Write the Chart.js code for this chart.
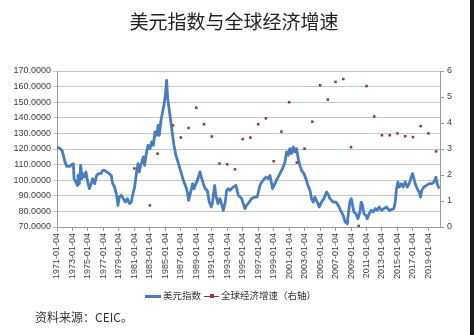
<!DOCTYPE html>
<html>
<head>
<meta charset="utf-8">
<script src="https://cdn.jsdelivr.net/npm/chart.js@4.4.1/dist/chart.umd.min.js"></script>
<style>
  html, body { margin: 0; padding: 0; background: #fff; }
  #wrap { position: relative; width: 474px; height: 335px; overflow: hidden; background: #fff; }
  #chartBox { position: absolute; left: 0; top: 0; width: 474px; height: 335px; }
  #title {
    position: absolute; left: 0; width: 468px; top: 9px; text-align: center;
    font-family: "Noto Sans CJK SC", sans-serif; font-size: 19px; color: #222; line-height: 24px;
  }
  #legend {
    position: absolute; left: 145px; top: 288px; height: 14px; line-height: 14px;
    font-family: "Noto Sans CJK SC", sans-serif; font-size: 9.5px; color: #333; white-space: nowrap;
  }
  #legend .sw { display: inline-block; vertical-align: middle; position: relative; margin-right: 2px; }
  #legend .sw i { position: absolute; left: 50%; top: 50%; width: 4px; height: 4px; margin: -2px 0 0 -2px; }
  #legend .item { margin-right: 3px; }
  #source {
    position: absolute; left: 35px; top: 309px; font-family: "Noto Sans CJK SC", sans-serif;
    font-size: 12px; color: #333; line-height: 16px;
  }
  #edge { position: absolute; left: 470px; top: 0; width: 4px; height: 335px; background: #1c1c1c; }
</style>
</head>
<body>
<div id="wrap">
  <div id="chartBox"><canvas id="dxyChart"></canvas></div>
  <div id="title">美元指数与全球经济增速</div>
  <div id="legend"></div>
  <div id="source">资料来源：CEIC。</div>
  <div id="edge"></div>
</div>
<script>
// x axis tick labels (one every two years)
const xTickLabels = [
  '1971-01-04', '1973-01-04', '1975-01-04', '1977-01-04', '1979-01-04', '1981-01-04',
  '1983-01-04', '1985-01-04', '1987-01-04', '1989-01-04', '1991-01-04', '1993-01-04',
  '1995-01-04', '1997-01-04', '1999-01-04', '2001-01-04', '2003-01-04', '2005-01-04',
  '2007-01-04', '2009-01-04', '2011-01-04', '2013-01-04', '2015-01-04', '2017-01-04',
  '2019-01-04'
];

// US dollar index: sample dates (decimal years) and values
const dxyDates = [
  1971.04, 1971.39, 1971.65, 1971.82, 1972.03, 1972.25, 1972.68, 1972.89, 1973.11, 1973.20,
  1973.45, 1973.63, 1973.71, 1973.89, 1974.06, 1974.23, 1974.40, 1974.62, 1974.75, 1974.92,
  1975.18, 1975.35, 1975.61, 1975.87, 1976.12, 1976.38, 1976.64, 1976.90, 1977.16, 1977.42,
  1977.76, 1978.02, 1978.19, 1978.45, 1978.71, 1978.88, 1979.05, 1979.31, 1979.57, 1979.83,
  1980.09, 1980.35, 1980.60, 1980.86, 1981.03, 1981.29, 1981.47, 1981.64, 1981.81, 1981.98,
  1982.15, 1982.33, 1982.50, 1982.76, 1983.02, 1983.23, 1983.45, 1983.66, 1983.88, 1984.09,
  1984.22, 1984.44, 1984.65, 1984.82, 1985.00, 1985.17, 1985.30, 1985.43, 1985.60, 1985.77,
  1985.94, 1986.12, 1986.37, 1986.63, 1986.89, 1987.15, 1987.41, 1987.67, 1987.84, 1988.01,
  1988.27, 1988.53, 1988.70, 1988.96, 1989.22, 1989.48, 1989.65, 1989.91, 1990.16, 1990.42,
  1990.68, 1990.94, 1991.11, 1991.37, 1991.54, 1991.80, 1992.06, 1992.32, 1992.49, 1992.75,
  1992.92, 1993.18, 1993.35, 1993.78, 1994.13, 1994.43, 1994.86, 1995.29, 1995.50, 1995.85,
  1996.15, 1996.58, 1996.88, 1997.23, 1997.44, 1997.66, 1998.00, 1998.30, 1998.52, 1998.86,
  1999.16, 1999.47, 1999.81, 2000.15, 2000.46, 2000.67, 2000.89, 2001.10, 2001.32, 2001.53,
  2001.75, 2001.96, 2002.18, 2002.39, 2002.61, 2002.91, 2003.17, 2003.43, 2003.69, 2003.90,
  2004.12, 2004.33, 2004.63, 2004.89, 2005.19, 2005.49, 2005.84, 2006.10, 2006.27, 2006.70,
  2007.05, 2007.35, 2007.65, 2007.99, 2008.25, 2008.51, 2008.68, 2008.85, 2009.03, 2009.20,
  2009.37, 2009.63, 2009.89, 2010.15, 2010.32, 2010.49, 2010.66, 2010.92, 2011.09, 2011.35,
  2011.61, 2011.87, 2012.13, 2012.39, 2012.64, 2012.95, 2013.25, 2013.59, 2013.94, 2014.28,
  2014.54, 2014.71, 2014.88, 2015.06, 2015.23, 2015.49, 2015.74, 2016.00, 2016.26, 2016.52,
  2016.78, 2016.95, 2017.12, 2017.29, 2017.55, 2017.81, 2017.98, 2018.16, 2018.41, 2018.76,
  2019.10, 2019.45, 2019.71, 2019.97, 2020.14, 2020.31, 2020.40
];
const dxyValues = [
  121.3, 120.2, 119.1, 116.0, 111.7, 108.9, 108.9, 110.0, 110.6, 101.0,
  98.8, 96.7, 103.0, 97.8, 109.5, 101.0, 104.0, 102.0, 105.3, 100.0,
  94.6, 96.7, 101.0, 97.8, 103.0, 104.2, 104.2, 106.3, 106.3, 105.3,
  104.2, 103.0, 97.8, 95.6, 90.3, 83.9, 89.2, 90.3, 88.2, 86.0,
  88.2, 85.0, 86.0, 92.4, 95.6, 105.3, 110.6, 105.3, 109.5, 111.7,
  114.9, 109.5, 115.9, 122.4, 120.2, 124.5, 122.4, 130.9, 128.8, 135.2,
  128.8, 138.4, 143.7, 148.0, 154.4, 164.0, 152.3, 148.0, 141.6, 135.2,
  128.8, 122.4, 115.9, 111.7, 107.4, 103.0, 98.8, 95.6, 92.4, 87.1,
  92.4, 97.8, 94.6, 97.8, 101.0, 105.3, 102.0, 97.8, 94.6, 93.5,
  86.0, 82.8, 86.0, 96.7, 90.3, 85.0, 88.2, 83.9, 80.7, 86.0,
  93.5, 94.6, 93.5, 95.6, 96.7, 90.3, 88.2, 81.8, 83.9, 86.0,
  88.2, 89.2, 89.2, 96.7, 98.8, 100.0, 102.0, 101.0, 103.0, 94.6,
  97.8, 101.0, 104.2, 107.4, 111.7, 118.1, 116.0, 120.2, 117.0, 121.3,
  118.1, 120.2, 113.8, 109.5, 106.3, 104.2, 101.0, 96.7, 93.5, 88.2,
  86.0, 89.2, 86.0, 82.8, 86.0, 88.2, 92.4, 90.3, 88.2, 86.0,
  86.0, 83.9, 80.7, 77.5, 73.2, 72.1, 79.6, 86.0, 88.2, 83.9,
  79.6, 78.5, 75.3, 79.6, 86.0, 83.9, 78.5, 77.5, 75.3, 78.5,
  80.7, 79.6, 81.8, 80.7, 82.8, 80.7, 81.8, 82.8, 80.7, 81.3,
  81.8, 86.0, 94.6, 98.8, 95.6, 97.8, 95.6, 98.8, 95.6, 97.8,
  102.0, 104.2, 101.0, 97.8, 94.6, 92.4, 89.2, 93.5, 95.6, 96.7,
  97.8, 97.8, 98.8, 102.0, 97.8, 95.6, 94.6
];

// global economic growth (%), right axis; null = no marker shown
const growthYears = [
  1981, 1982, 1983, 1984, 1985, 1986, 1987, 1988, 1989, 1990,
  1991, 1992, 1993, 1994, 1995, 1996, 1997, 1998, 1999, 2000,
  2001, 2002, 2003, 2004, 2005, 2006, 2007, 2008, 2009, 2010,
  2011, 2012, 2013, 2014, 2015, 2016, 2017, 2018, 2019, 2020
];
const growthValues = [
  2.25, null, 0.83, 2.82, null, 3.91, 3.44, 3.81, 4.59, 3.95,
  3.48, 2.44, 2.41, 2.22, 3.38, 3.44, 3.95, 4.18, 2.53, 3.67,
  4.80, 2.48, 3.01, 4.05, 5.45, 4.90, 5.58, 5.69, 3.07, 0.04,
  5.42, 4.25, 3.53, 3.53, 3.60, 3.49, 3.46, 3.88, 3.60, 2.91
];

const seriesNames = ['美元指数', '全球经济增速（右轴）'];

const blue = '#4a7ebb';
const red = '#963a38';
const axisColor = '#9a9a9a';
const gridColor = '#c6c6c6';
const labelColor = '#404040';

Chart.defaults.font.family = '"Liberation Sans", Arial, sans-serif';
Chart.defaults.font.size = 9;
Chart.defaults.color = labelColor;

const dxyPoints = dxyDates.map((d, i) => ({ x: d, y: dxyValues[i] }));
const growthPoints = growthYears.map((yr, i) => ({ x: yr, y: growthValues[i] }));

const chart = new Chart(document.getElementById('dxyChart'), {
  type: 'line',
  data: {
    datasets: [
      {
        label: seriesNames[0],
        data: dxyPoints,
        yAxisID: 'y',
        borderColor: blue,
        borderWidth: 2.8,
        borderJoinStyle: 'round',
        pointRadius: 0,
        tension: 0,
        order: 1
      },
      {
        label: seriesNames[1],
        data: growthPoints,
        yAxisID: 'y2',
        showLine: false,
        pointStyle: 'rect',
        pointRadius: 1.8,
        backgroundColor: red,
        borderColor: red,
        borderWidth: 0,
        order: 0
      }
    ]
  },
  options: {
    responsive: true,
    maintainAspectRatio: false,
    animation: false,
    layout: { padding: { top: 71, left: 0, right: 0, bottom: 50 } },
    plugins: {
      legend: { display: false },
      tooltip: { enabled: false }
    },
    scales: {
      x: {
        type: 'linear',
        min: 1971,
        max: 2020.5,
        afterBuildTicks: scale => {
          scale.ticks = xTickLabels.map(l => ({ value: parseInt(l, 10) }));
        },
        afterFit: scale => { scale.height = 58; },
        ticks: {
          autoSkip: false,
          minRotation: 90,
          maxRotation: 90,
          padding: 2,
          callback: (value, index) => xTickLabels[index]
        },
        grid: { drawOnChartArea: false, tickLength: 4, color: axisColor },
        border: { color: axisColor }
      },
      y: {
        position: 'left',
        min: 70,
        max: 170,
        afterFit: scale => { scale.width = 57; },
        ticks: {
          stepSize: 10,
          padding: 2,
          callback: v => v.toFixed(4)
        },
        grid: { color: gridColor, tickLength: 4 },
        border: { color: axisColor }
      },
      y2: {
        position: 'right',
        min: 0,
        max: 6,
        afterFit: scale => { scale.width = 34; },
        ticks: { stepSize: 1, padding: 3 },
        grid: { drawOnChartArea: false, tickLength: 4, color: axisColor },
        border: { color: axisColor }
      }
    }
  }
});

// legend under the plot: plain line for the index, line + square marker for growth
const legend = document.getElementById('legend');
legend.innerHTML =
  '<span class="sw" style="width:16px;height:2.5px;background:' + blue + '"></span>' +
  '<span class="item">' + seriesNames[0] + '</span>' +
  '<span class="sw" style="width:15px;height:1.5px;background:' + red + '"><i style="background:' + red + '"></i></span>' +
  '<span class="item">' + seriesNames[1] + '</span>';
</script>
</body>
</html>
